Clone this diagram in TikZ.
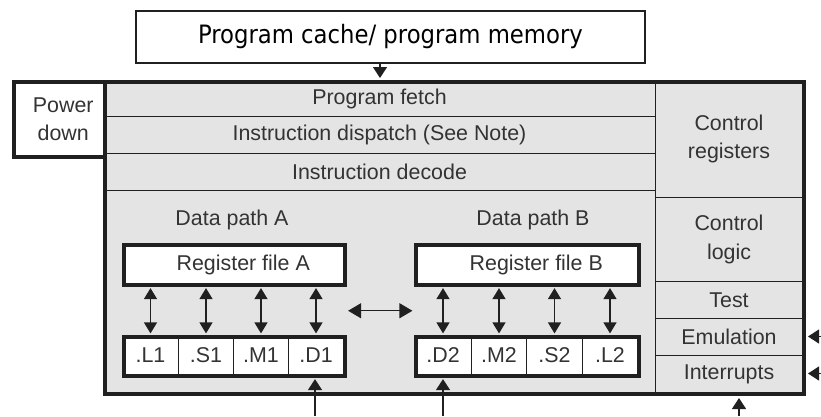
\documentclass[tikz,border=0pt]{standalone}
\usepackage{fontspec}
\setmainfont{Liberation Sans}
\newfontfamily\titlefont{DejaVu Sans Condensed}
\usetikzlibrary{arrows.meta,calc}
\definecolor{panel}{HTML}{E4E4E4}
\definecolor{ink}{HTML}{202020}
\definecolor{txt}{HTML}{333333}
\begin{document}
\begin{tikzpicture}[x=1pt,y=-1pt,
  box/.style={draw=ink,line width=1pt,fill=panel,inner sep=0pt,anchor=north west,
    text=txt,font=\fontsize{21.4}{28.5}\selectfont,align=center},
  wbox/.style={box,fill=white},
  heavy/.style={draw=ink,line width=3.5pt,inner sep=0pt,anchor=north west},
  dbl/.style={{Triangle[width=13pt,length=11pt]}-{Triangle[width=13pt,length=11pt]},line width=1.2pt,draw=ink,shorten <=1.6pt,shorten >=1.6pt},
  arr/.style={-{Triangle[width=14pt,length=11pt]},line width=1.2pt,draw=ink,shorten >=1.6pt},
  lbl/.style={text=txt,font=\fontsize{21.4}{24}\selectfont,inner sep=0pt}]
\useasboundingbox (0,0) rectangle (821,416);
% title
\node[wbox,line width=2pt,text=black,font=\titlefont\fontsize{25.3}{28}\selectfont,minimum width=509pt,minimum height=52pt] (title) at (135,10) {Program cache/ program memory};
% core background
\fill[panel] (103,80) rectangle (802,392);
% rows
\node[box,minimum width=552pt,minimum height=36pt] (fetch) at (103,80) {Program fetch};
\node[box,minimum width=552pt,minimum height=37pt] (dispatch) at (103,116) {Instruction dispatch (See Note)};
\node[box,minimum width=552pt,minimum height=37pt] (decode) at (103,153) {Instruction decode};
% right column
\node[box,minimum width=147pt,minimum height=117pt] (ctrlreg) at (655,80) {Control\\registers};
\node[box,minimum width=147pt,minimum height=84pt] (ctrllogic) at (655,197) {Control\\logic};
\node[box,minimum width=147pt,minimum height=37pt] (test) at (655,281) {Test};
\node[box,minimum width=147pt,minimum height=37pt] (emul) at (655,318) {Emulation};
\node[box,minimum width=147pt,minimum height=37pt] (intr) at (655,355) {Interrupts};
% data path labels
\node[lbl] (dpA) at (232,220) {Data path A};
\node[lbl] (dpB) at (533,220) {Data path B};
% register files
\node[wbox,heavy,minimum width=221pt,minimum height=40pt] (rfA) at (122,243) {\hspace*{18pt}Register file A};
\node[wbox,heavy,minimum width=223pt,minimum height=40pt] (rfB) at (414,243) {\hspace*{18pt}Register file B};
% units A
\node[wbox,minimum width=56pt,minimum height=39pt] (L1) at (122,335) {.L1};
\node[wbox,minimum width=55pt,minimum height=39pt] (S1) at (178,335) {.S1};
\node[wbox,minimum width=55pt,minimum height=39pt] (M1) at (233,335) {.M1};
\node[wbox,minimum width=55pt,minimum height=39pt] (D1) at (288,335) {.D1};
\node[heavy,minimum width=221pt,minimum height=39pt] (unitsA) at (122,335) {};
% units B
\node[wbox,minimum width=57pt,minimum height=39pt] (D2) at (414,335) {.D2};
\node[wbox,minimum width=55pt,minimum height=39pt] (M2) at (471,335) {.M2};
\node[wbox,minimum width=56pt,minimum height=39pt] (S2) at (526,335) {.S2};
\node[wbox,minimum width=55pt,minimum height=39pt] (L2) at (582,335) {.L2};
\node[heavy,minimum width=223pt,minimum height=39pt] (unitsB) at (414,335) {};
% power down
\node[wbox,heavy,minimum width=91pt,minimum height=75pt] (power) at (12,80) {\hspace*{8pt}Power\\\hspace*{8pt}down};
% core border
\node[heavy,line width=4pt,minimum width=699pt,minimum height=312pt] (core) at (103,80) {};
% register-unit arrows
\foreach \u/\r/\g in {L1/rfA/unitsA,S1/rfA/unitsA,M1/rfA/unitsA,D1/rfA/unitsA,D2/rfB/unitsB,M2/rfB/unitsB,S2/rfB/unitsB,L2/rfB/unitsB}
  \draw[dbl] (\u.north |- \g.north) -- (\u.north |- \r.south);
% cross path
\draw[dbl,{Triangle[width=15pt,length=13pt]}-{Triangle[width=15pt,length=13pt]}] ($(unitsA.north east)!0.5!(rfA.south east)$) -- ($(unitsB.north west)!0.5!(rfB.south west)$);
% top arrow
\coordinate (tA) at (380,62);
\draw[arr,shorten >=2pt] (title.south -| tA) -- (tA |- core.north);
% bottom inputs
\coordinate (inA) at (315,416);
\coordinate (inB) at (443,416);
\coordinate (inC) at (739,416);
\draw[arr] (inA) -- (inA |- unitsA.south);
\draw[arr] (inB) -- (inB |- unitsB.south);
\draw[arr,shorten >=2pt] (inC) -- (inC |- core.south);
% right inputs
\coordinate (inE) at (821,336.5);
\coordinate (inI) at (821,373.5);
\draw[arr,shorten >=2pt] (inE) -- (inE -| core.east);
\draw[arr,shorten >=2pt] (inI) -- (inI -| core.east);
\end{tikzpicture}
\end{document}
